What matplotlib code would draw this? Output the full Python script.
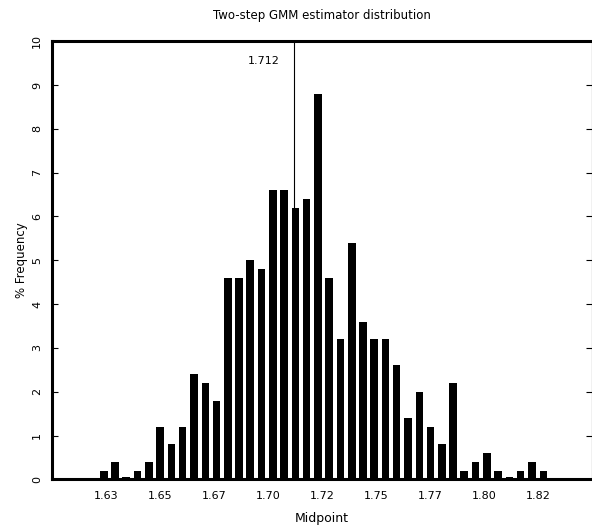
import matplotlib
matplotlib.use("Agg")
import matplotlib.pyplot as plt

# bin midpoints and % frequency
midpoints = [1.6240, 1.6292, 1.6344, 1.6397, 1.6449, 1.6501, 1.6553, 1.6605,
             1.6657, 1.6710, 1.6762, 1.6814, 1.6866, 1.6918, 1.6970, 1.7023,
             1.7075, 1.7127, 1.7179, 1.7231, 1.7283, 1.7336, 1.7388, 1.7440,
             1.7492, 1.7544, 1.7596, 1.7649, 1.7701, 1.7753, 1.7805, 1.7857,
             1.7909, 1.7962, 1.8014, 1.8066, 1.8118, 1.8170, 1.8222, 1.8275]
freq = [0.2, 0.4, 0.05, 0.2, 0.4, 1.2, 0.8, 1.2,
        2.4, 2.2, 1.8, 4.6, 4.6, 5.0, 4.8, 6.6,
        6.6, 6.2, 6.4, 8.8, 4.6, 3.2, 5.4, 3.6,
        3.2, 3.2, 2.6, 1.4, 2.0, 1.2, 0.8, 2.2,
        0.2, 0.4, 0.6, 0.2, 0.05, 0.2, 0.4, 0.2]
xtick_pos = [1.625, 1.65, 1.675, 1.70, 1.725, 1.75, 1.775, 1.80, 1.825]
xtick_labels = ["1.63", "1.65", "1.67", "1.70", "1.72", "1.75", "1.77", "1.80", "1.82"]
estimate = 1.712

fig = plt.figure(figsize=(5.92, 5.28), dpi=100)
ax = fig.add_axes([0.0878, 0.092, 0.912, 0.830])

ax.bar(midpoints, freq, width=0.0035, color="black")
ax.axvline(estimate, color="black", linewidth=0.8)
ax.text(estimate - 0.014, 9.55, f"{estimate:.3f}", ha="center", va="center", fontsize=8)

ax.set_xlim(1.60, 1.85)
ax.set_ylim(0, 10)
ax.set_xticks(xtick_pos)
ax.set_xticklabels(xtick_labels)
ax.set_yticks(range(0, 11))
ax.tick_params(axis="x", length=0, labelsize=8, pad=8)
ax.tick_params(axis="y", direction="in", length=4, width=0.8, right=True,
               labelsize=8, labelrotation=90, pad=7)
for lbl in ax.get_yticklabels():
    lbl.set_va("center")

for s in ["left", "top", "bottom"]:
    ax.spines[s].set_linewidth(2.2)
ax.spines["right"].set_linewidth(0.8)

ax.set_title("Two-step GMM estimator distribution", fontsize=8.5, pad=16)
ax.set_xlabel("Midpoint", fontsize=9, labelpad=8)
ax.set_ylabel("% Frequency", fontsize=8.5, labelpad=3)

fig.savefig("out.png", dpi=100)
